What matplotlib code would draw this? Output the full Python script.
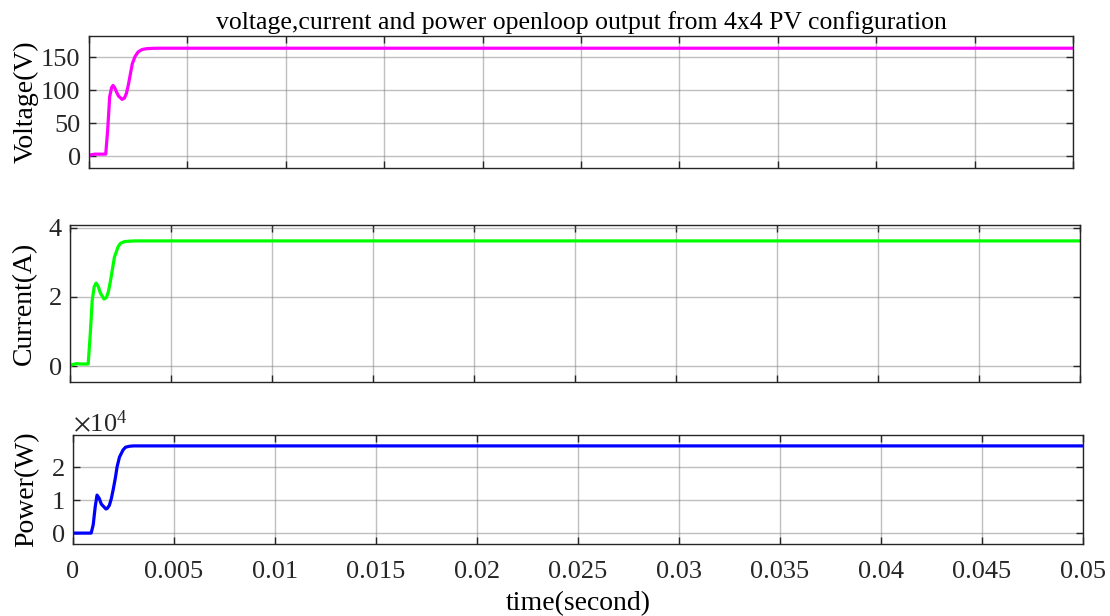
"""
Open-loop voltage, current and power of a 4x4 PV configuration.
"""

import matplotlib
matplotlib.use('Agg')
import matplotlib.pyplot as plt
from matplotlib.ticker import ScalarFormatter, NullFormatter

plt.rcParams['font.family'] = ['Liberation Serif', 'DejaVu Serif']
plt.rcParams['mathtext.fontset'] = 'stix'

# values (time in seconds)
t_volt = [0, 0.0001, 0.0003, 0.0006, 0.00085, 0.00095, 0.00105, 0.00115, 0.00122,
          0.0013, 0.0014, 0.0015, 0.00168, 0.0018, 0.0019, 0.002, 0.0021, 0.0022,
          0.00234, 0.0025, 0.0027, 0.0029, 0.0032, 0.0036, 0.05]
voltage = [0, 2, 3, 3, 3, 40, 90, 104, 107, 104, 97, 91, 86, 88, 95, 108, 124, 140,
           151, 158, 161.5, 162.7, 163.3, 163.5, 163.5]

t_curr = [0, 0.0001, 0.0003, 0.0006, 0.0009, 0.001, 0.0011, 0.0012, 0.00129,
          0.0014, 0.0015, 0.00168, 0.0018, 0.0019, 0.002, 0.0021, 0.0022,
          0.00238, 0.0025, 0.0027, 0.0029, 0.0032, 0.0036, 0.05]
current = [0, 0.04, 0.07, 0.06, 0.06, 0.9, 1.9, 2.3, 2.4, 2.3, 2.12, 1.94, 1.98,
           2.15, 2.45, 2.8, 3.15, 3.45, 3.55, 3.6, 3.61, 3.62, 3.62, 3.62]

t_pow = [0, 0.0003, 0.0006, 0.0009, 0.001, 0.0011, 0.00119, 0.0013, 0.0014,
         0.00163, 0.0017, 0.0018, 0.0019, 0.002, 0.0021, 0.00218, 0.0023,
         0.00248, 0.0026, 0.0028, 0.003, 0.0034, 0.05]
power = [0, 0, 0, 0, 2500, 8000, 11500, 10500, 8800, 7300, 7500, 8400, 10500,
         13500, 16800, 20000, 23000, 25200, 26000, 26300, 26400, 26400, 26400]

title = 'voltage,current and power openloop output from 4x4 PV configuration'
x_ticks = [0, 0.005, 0.01, 0.015, 0.02, 0.025, 0.03, 0.035, 0.04, 0.045, 0.05]
x_labels = ['0', '0.005', '0.01', '0.015', '0.02', '0.025', '0.03', '0.035',
            '0.04', '0.045', '0.05']

W, H = 1110, 616
fig = plt.figure(figsize=(W / 100, H / 100), dpi=100)


def make_axes(left, top, right, bottom):
    return fig.add_axes([left / W, 1 - bottom / H, (right - left) / W, (bottom - top) / H])


def style(ax):
    ax.set_xlim(0, 0.05)
    ax.set_xticks(x_ticks)
    ax.tick_params(direction='in', top=True, right=True, length=5, width=1,
                   colors='#262626', labelsize=19, pad=6)
    ax.grid(True, color='#808080', alpha=0.5, linewidth=1)
    for s in ax.spines.values():
        s.set_color('#262626')
        s.set_linewidth(1)


ax1 = make_axes(89, 36, 1073, 168)
ax1.plot(t_volt, voltage, color='#FF00FF', linewidth=2.3)
style(ax1)
ax1.set_ylim(-18, 182)
ax1.set_yticks([0, 50, 100, 150])
ax1.xaxis.set_major_formatter(NullFormatter())
ax1.set_ylabel('Voltage(V)', fontsize=20, labelpad=2)
ax1.set_title(title, fontsize=18.5, pad=5)

ax2 = make_axes(70, 225, 1080, 382)
ax2.plot(t_curr, current, color='#00FF00', linewidth=2.3)
style(ax2)
ax2.set_ylim(-0.46, 4.08)
ax2.set_yticks([0, 2, 4])
ax2.xaxis.set_major_formatter(NullFormatter())
ax2.set_ylabel('Current(A)', fontsize=20, labelpad=8)

ax3 = make_axes(73, 435, 1083, 544)
ax3.plot(t_pow, power, color='#0000FF', linewidth=2.3)
style(ax3)
ax3.set_ylim(-3300, 29700)
ax3.set_yticks([0, 10000, 20000])
fmt = ScalarFormatter(useMathText=True)
fmt.set_powerlimits((0, 0))
ax3.yaxis.set_major_formatter(fmt)
ax3.yaxis.get_offset_text().set_fontsize(19)
ax3.set_xticklabels(x_labels)
ax3.tick_params(axis='x', pad=12)
ax3.set_ylabel('Power(W)', fontsize=20, labelpad=8)
ax3.set_xlabel('time(second)', fontsize=20, labelpad=6)

fig.savefig('out.png', dpi=100)
plt.close(fig)
